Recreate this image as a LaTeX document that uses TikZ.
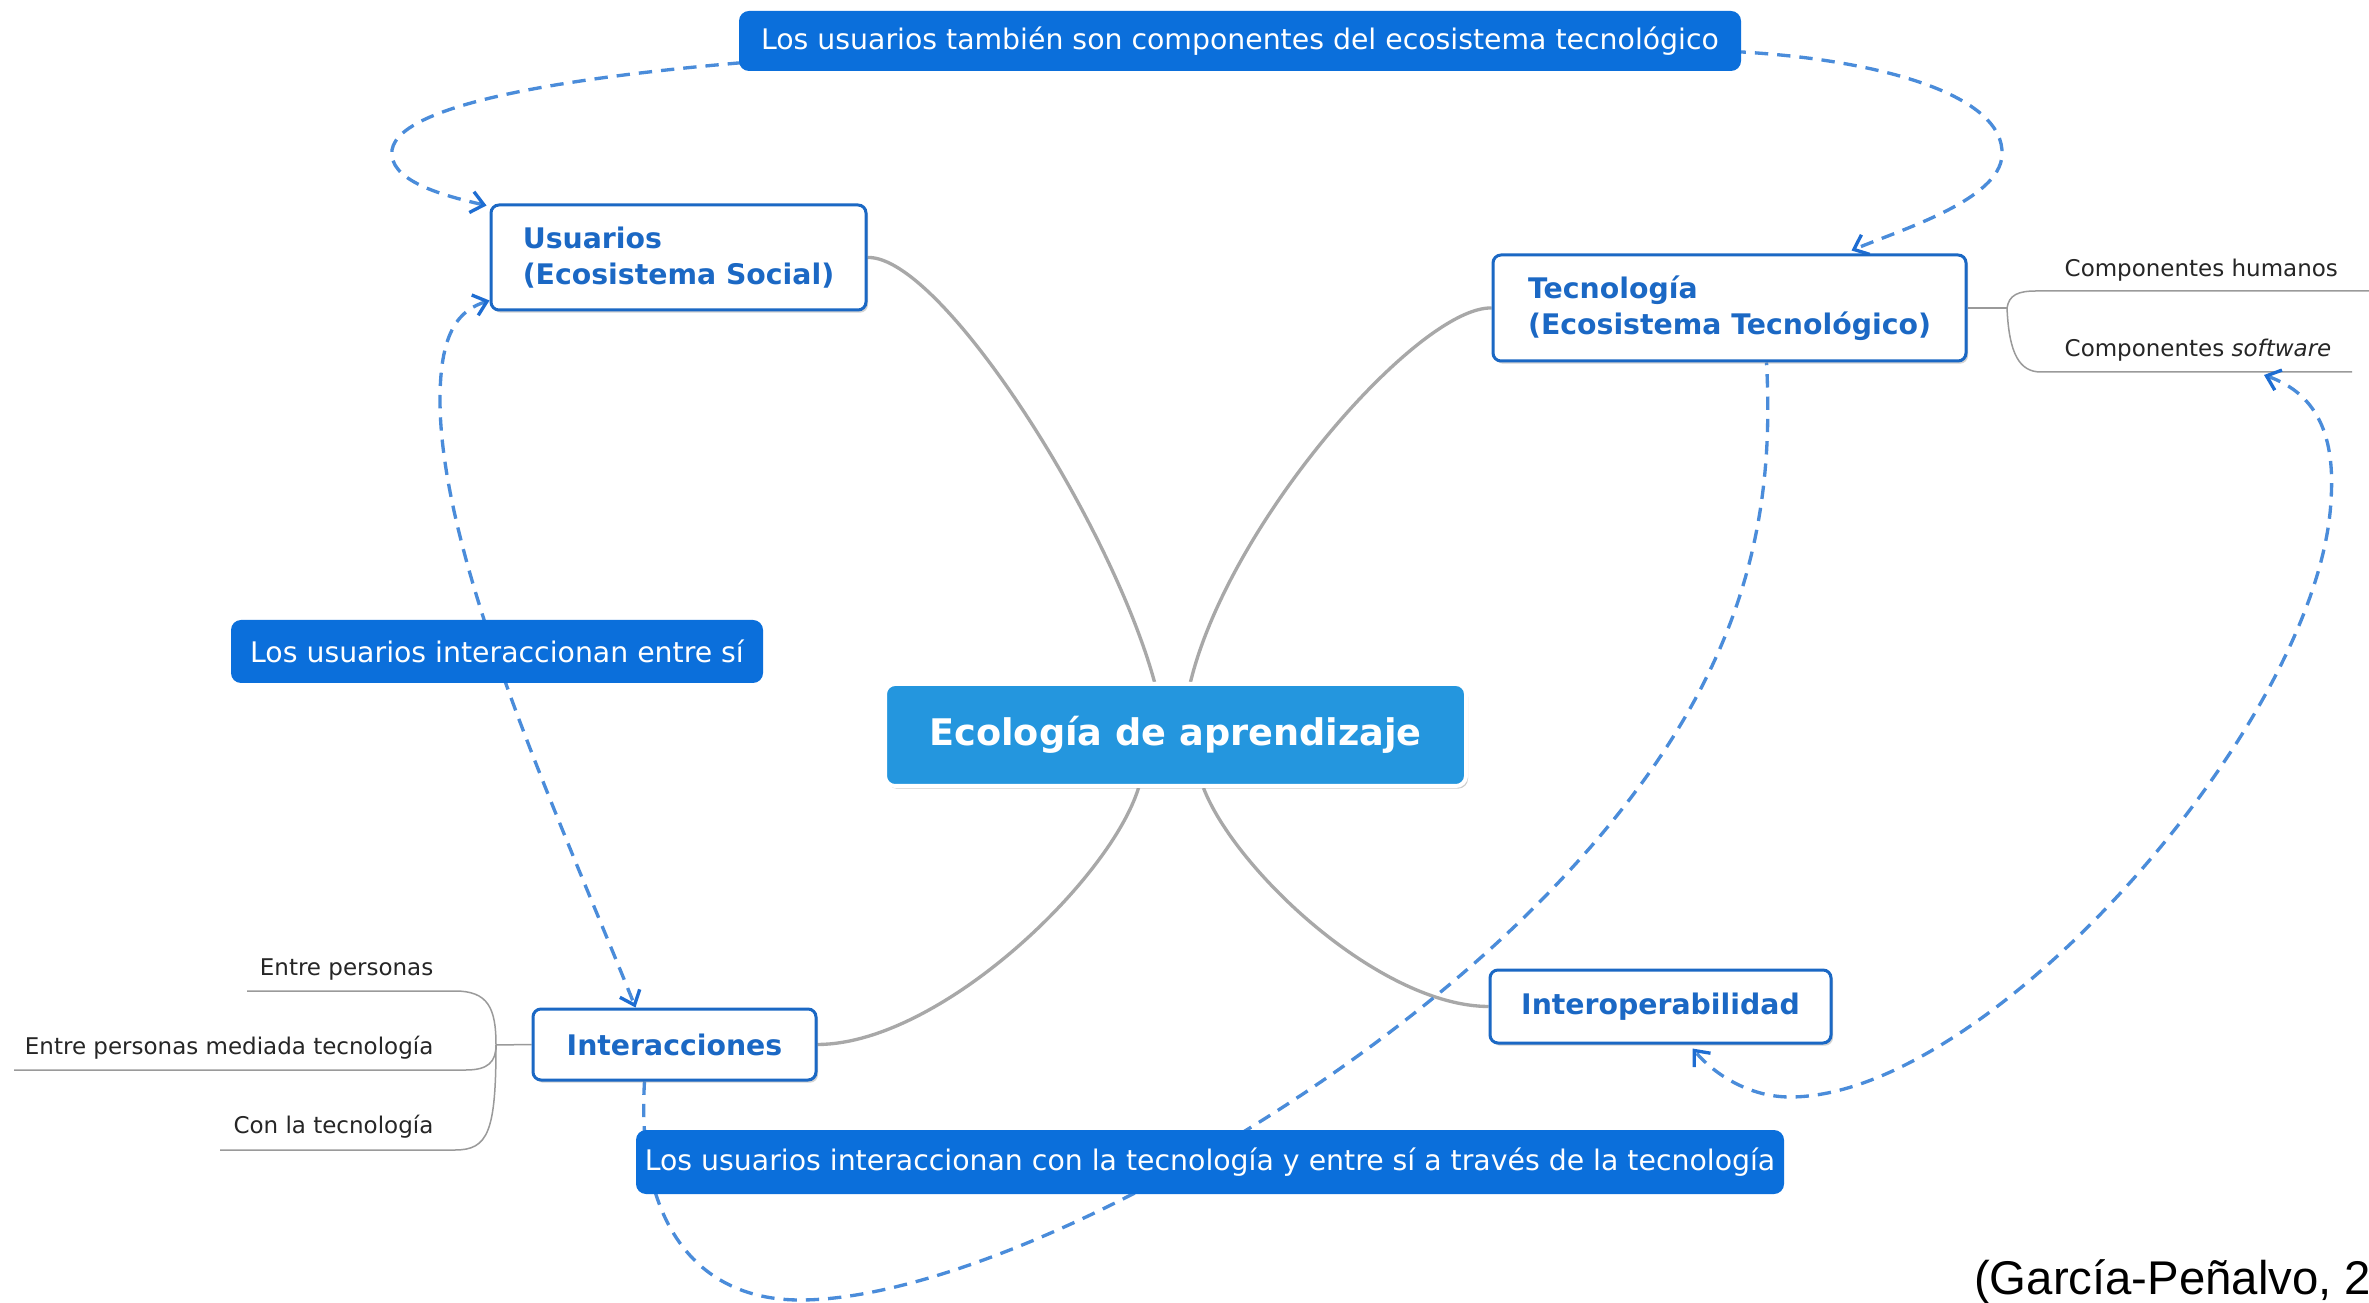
\documentclass[tikz,border=0pt]{standalone}
\usepackage{fontspec}
\setmainfont{DejaVu Sans}
\newfontfamily\citefont{Liberation Sans}
\usetikzlibrary{arrows.meta,calc,shadows,backgrounds}
\definecolor{callblue}{HTML}{0B6FDB}
\definecolor{centblue}{HTML}{2496DE}
\definecolor{topicblue}{HTML}{1B68C4}
\definecolor{dashblue}{HTML}{4A8CDA}
\definecolor{tipblue}{HTML}{1E6DD2}
\definecolor{linegray}{HTML}{A8A8A8}
\definecolor{subgray}{HTML}{9A9A9A}
\definecolor{subtext}{HTML}{262626}
\tikzset{
 wh/.style 2 args={minimum width=#1*0.3pt, minimum height=#2*0.3pt},
 topic/.style={draw=topicblue, line width=0.9pt, fill=white, rounded corners=2.4pt, inner sep=0pt, align=left, text=topicblue, font=\fontsize{8.5}{10.8}\selectfont\bfseries, drop shadow={opacity=0.35, shadow xshift=0.6pt, shadow yshift=-0.8pt}},
 central/.style={fill=centblue, draw=white, line width=1.2pt, rounded corners=3pt, inner sep=0pt, text=white, font=\fontsize{11}{13}\selectfont\bfseries, drop shadow={opacity=0.4, shadow xshift=0.6pt, shadow yshift=-0.8pt}},
 callout/.style={fill=callblue, rounded corners=3pt, inner sep=0pt, text=white, font=\fontsize{8.5}{10}\selectfont},
 subtopic/.style={inner sep=0pt, text=subtext, font=\fontsize{6.9}{8}\selectfont},
 mainline/.style={draw=linegray, line width=1pt},
 subline/.style={draw=subgray, line width=0.45pt},
 relation/.style={draw=dashblue, line width=1pt, dash pattern=on 4pt off 2.7pt},
 twoheads/.style={{Straight Barb[length=3.8pt,width=6.4pt,color=tipblue]}-{Straight Barb[length=3.8pt,width=6.4pt,color=tipblue]}},
}
\begin{document}
\begin{tikzpicture}[x=0.3pt, y=-0.3pt]
\useasboundingbox (0,0) rectangle (2369,1303);
% nodes
\node[callout, wh={1002}{60}] (topcall) at (1240,41) {Los usuarios también son componentes del ecosistema tecnológico};
\node[topic, wh={375}{105}] (usu) at (678.5,257.5) {Usuarios\\(Ecosistema Social)};
\node[topic, wh={473}{106}] (tec) at (1729.5,308) {Tecnología\\(Ecosistema Tecnológico)};
\node[callout, wh={532}{63}] (leftcall) at (497,651.5) {Los usuarios interaccionan entre sí};
\node[central, wh={581}{102}] (eco) at (1175.5,735) {Ecología de aprendizaje};
\node[topic, wh={283}{71}] (int) at (674.5,1044.5) {Interacciones};
\node[topic, wh={341}{73}] (iop) at (1660.5,1006.5) {Interoperabilidad};
\node[callout, wh={1148}{64}] (botcall) at (1210,1162) {Los usuarios interaccionan con la tecnología y entre sí a través de la tecnología};
\node[subtopic, anchor=base west] (hum) at (2064,277) {Componentes humanos};
\node[subtopic, anchor=base west] (soft) at (2064,357) {Componentes \textit{software}};
\node[subtopic, anchor=base east] (ep) at (434,975) {Entre personas};
\node[subtopic, anchor=base east] (epm) at (434,1054) {Entre personas mediada tecnología};
\node[subtopic, anchor=base east] (ct) at (434,1133) {Con la tecnología};
\node[anchor=base east, inner sep=0pt, font=\citefont\fontsize{14.2}{16}\selectfont] (cite) at (2372,1294) {(García-Peñalvo, 2};
\coordinate (tj) at (2007,308);
\coordinate (ij) at (496,1045);
\begin{scope}[on background layer]
\fill[white] (0,0) rectangle (2369,1303);
% main connectors
\draw[mainline] (usu.east) .. controls (940,255) and (1110,520) .. ($(eco.north)+(-21,0)$);
\draw[mainline] (tec.west) .. controls (1420,306) and (1230,520) .. ($(eco.north)+(15,0)$);
\draw[mainline] ($(eco.south)+(-37,0)$) .. controls (1110,880) and (940,1044) .. (int.east);
\draw[mainline] ($(eco.south)+(28,0)$) .. controls (1235,870) and (1380,1006) .. (iop.west);
% sub branches
\draw[subline] (tec.east) -- (tj);
\draw[subline] (tj) .. controls (2009,295) and (2018,291) .. (2036,291) -- (2369,291);
\draw[subline] (tj) .. controls (2009,355) and (2020,372) .. (2041,372) -- (2352,372);
\draw[subline] (int.west) -- (ij);
\draw[subline] (ij) .. controls (496,1008) and (488,991) .. (455,991) -- (247,991);
\draw[subline] (ij) .. controls (496,1062) and (488,1070) .. (466,1070) -- (14,1070);
\draw[subline] (ij) .. controls (496,1132) and (488,1150) .. (455,1150) -- (220,1150);
% relations
\draw[relation, twoheads] ($(usu.north west)+(-3,2)$) .. controls (440,195) and (388,180) .. (392,150) .. controls (400,100) and (600,75) .. ($(topcall.west)+(0,22)$) -- ($(topcall.east)+(0,11)$) .. controls (1880,60) and (2005,95) .. (2002,155) .. controls (2000,200) and (1900,230) .. ($(tec.north)+(122,-3)$);
\draw[relation, twoheads] ($(usu.west)+(0,43)$) .. controls (460,310) and (440,330) .. (440,400) .. controls (440,560) and (560,820) .. ($(int.north)+(-39,0)$);
\draw[relation] ($(int.south)+(-30,0)$) .. controls (636,1220) and (695,1300) .. (800,1300) .. controls (985,1300) and (1360,1100) .. (1570,870) .. controls (1745,680) and (1775,520) .. ($(tec.south)+(37,0)$);
\draw[relation, twoheads] ($(soft.base west)+(200,18)$) .. controls (2320,395) and (2335,440) .. (2331,500) .. controls (2320,720) and (1990,1097) .. (1790,1097) .. controls (1750,1097) and (1715,1075) .. ($(iop.south)+(32,4)$);
\end{scope}
\end{tikzpicture}
\end{document}
